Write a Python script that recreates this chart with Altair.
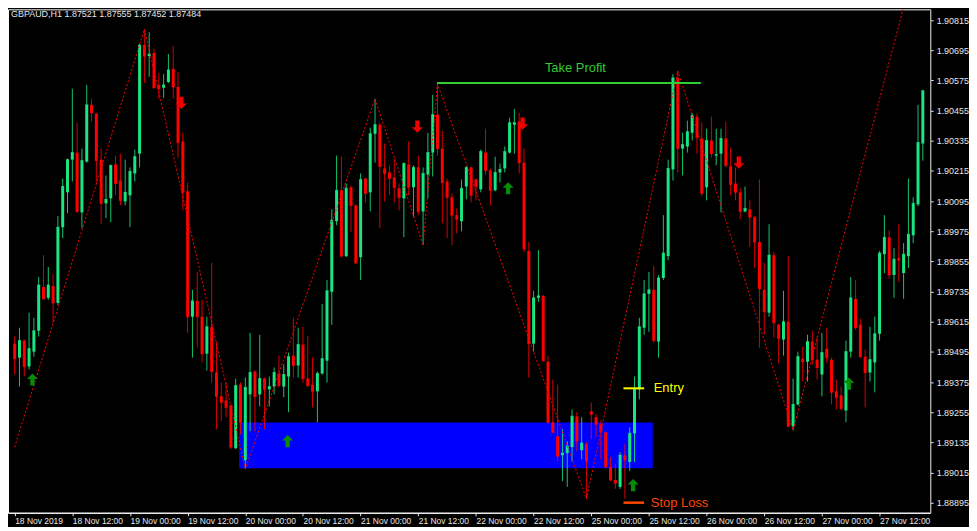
import altair as alt
import pandas as pd

# ---- OHLC data (GBPAUD H1), bar index 0 = 18 Nov 2019 00:00 ----
opens = [
    1.89528, 1.89472, 1.89540, 1.89437, 1.89496, 1.89579, 1.89753, 1.89710, 1.89757, 1.89690,
    1.89991, 1.90130, 1.90260, 1.90288, 1.90050, 1.90252, 1.90478, 1.90443, 1.90260, 1.90086,
    1.90106, 1.90241, 1.90177, 1.90094, 1.90118, 1.90205, 1.90284, 1.90716, 1.90672, 1.90684,
    1.90557, 1.90546, 1.90569, 1.90621, 1.90549, 1.90332, 1.90134, 1.89635, 1.89698, 1.89635,
    1.89488, 1.89595, 1.89413, 1.89318, 1.89302, 1.89282, 1.89112, 1.89365, 1.89064, 1.89326,
    1.89417, 1.89326, 1.89389, 1.89346, 1.89357, 1.89409, 1.89357, 1.89397, 1.89480, 1.89441,
    1.89524, 1.89389, 1.89365, 1.89338, 1.89409, 1.89460, 1.89734, 1.90015, 1.90138, 1.89876,
    1.90150, 1.90078, 1.89872, 1.90185, 1.90130, 1.90363, 1.90399, 1.90225, 1.90209, 1.90189,
    1.90146, 1.90106, 1.90241, 1.90150, 1.90229, 1.90054, 1.90201, 1.90288, 1.90439, 1.90304,
    1.90173, 1.90110, 1.90039, 1.90015, 1.90153, 1.90229, 1.90181, 1.90142, 1.90288, 1.90217,
    1.90138, 1.90209, 1.90225, 1.90288, 1.90399, 1.90411, 1.90248, 1.89896, 1.89528, 1.89710,
    1.89718, 1.89456, 1.89215, 1.89159, 1.89084, 1.89092, 1.89116, 1.89239, 1.89104, 1.89128,
    1.89258, 1.89235, 1.89207, 1.89175, 1.89037, 1.88985, 1.88958, 1.89084, 1.89057, 1.89171,
    1.89346, 1.89591, 1.89726, 1.89742, 1.89536, 1.89789, 1.89876, 1.90221, 1.90585, 1.90304,
    1.90312, 1.90367, 1.90431, 1.90344, 1.90150, 1.90336, 1.90276, 1.90284, 1.90344, 1.90233,
    1.90165, 1.90130, 1.90054, 1.90062, 1.90031, 1.89932, 1.89742, 1.89651, 1.89880, 1.89603,
    1.89544, 1.89615, 1.89199, 1.89286, 1.89468, 1.89456, 1.89536, 1.89464, 1.89405, 1.89508,
    1.89464, 1.89338, 1.89322, 1.89262, 1.89496, 1.89706, 1.89603, 1.89476, 1.89413, 1.89453,
    1.89567, 1.89884, 1.89951, 1.89801, 1.89868, 1.89809, 1.89876, 1.89959, 1.90082, 1.90324,
]
highs = [
    1.89556, 1.89591, 1.89544, 1.89651, 1.89631, 1.89793, 1.89880, 1.89833, 1.89805, 1.90035,
    1.90185, 1.90264, 1.90542, 1.90407, 1.90304, 1.90557, 1.90502, 1.90446, 1.90304, 1.90197,
    1.90240, 1.90276, 1.90284, 1.90260, 1.90229, 1.90300, 1.90720, 1.90779, 1.90767, 1.90700,
    1.90605, 1.90601, 1.90680, 1.90712, 1.90609, 1.90367, 1.90169, 1.89742, 1.89813, 1.89702,
    1.89635, 1.89849, 1.89536, 1.89373, 1.89373, 1.89286, 1.89389, 1.89373, 1.89393, 1.89571,
    1.89421, 1.89563, 1.89393, 1.89397, 1.89433, 1.89480, 1.89445, 1.89492, 1.89631, 1.89591,
    1.89595, 1.89559, 1.89472, 1.89417, 1.89686, 1.89781, 1.90062, 1.90276, 1.90272, 1.90165,
    1.90157, 1.90082, 1.90205, 1.90189, 1.90387, 1.90502, 1.90407, 1.90324, 1.90237, 1.90264,
    1.90165, 1.90248, 1.90332, 1.90237, 1.90276, 1.90229, 1.90367, 1.90518, 1.90561, 1.90375,
    1.90185, 1.90126, 1.90066, 1.90181, 1.90233, 1.90233, 1.90185, 1.90300, 1.90383, 1.90225,
    1.90272, 1.90245, 1.90312, 1.90427, 1.90462, 1.90446, 1.90304, 1.89932, 1.89738, 1.89900,
    1.89722, 1.89480, 1.89385, 1.89365, 1.89187, 1.89140, 1.89266, 1.89255, 1.89235, 1.89136,
    1.89294, 1.89247, 1.89223, 1.89179, 1.89076, 1.89049, 1.89096, 1.89128, 1.89195, 1.89397,
    1.89631, 1.89781, 1.89813, 1.89837, 1.89801, 1.90039, 1.90260, 1.90600, 1.90613, 1.90367,
    1.90415, 1.90446, 1.90443, 1.90407, 1.90383, 1.90431, 1.90383, 1.90383, 1.90411, 1.90308,
    1.90229, 1.90146, 1.90153, 1.90098, 1.90035, 1.90181, 1.89849, 1.90003, 1.89892, 1.89607,
    1.89738, 1.89876, 1.89389, 1.89496, 1.89516, 1.89563, 1.89579, 1.89556, 1.89571, 1.89591,
    1.89472, 1.89385, 1.89357, 1.89540, 1.89793, 1.89781, 1.89627, 1.89504, 1.89595, 1.89635,
    1.89896, 1.90039, 1.89979, 1.89908, 1.90003, 1.89928, 1.90185, 1.90110, 1.90478, 1.90538,
]
lows = [
    1.89405, 1.89357, 1.89397, 1.89425, 1.89476, 1.89556, 1.89702, 1.89702, 1.89611, 1.89682,
    1.89948, 1.90047, 1.90173, 1.90047, 1.89987, 1.90248, 1.90411, 1.90169, 1.90003, 1.90027,
    1.90011, 1.90118, 1.90078, 1.90078, 1.89991, 1.90173, 1.90229, 1.90565, 1.90589, 1.90542,
    1.90502, 1.90506, 1.90565, 1.90502, 1.90268, 1.90058, 1.89571, 1.89472, 1.89512, 1.89453,
    1.89421, 1.89373, 1.89187, 1.89219, 1.89235, 1.89108, 1.89108, 1.89167, 1.89029, 1.89179,
    1.89179, 1.89278, 1.89187, 1.89278, 1.89326, 1.89354, 1.89314, 1.89255, 1.89393, 1.89393,
    1.89373, 1.89354, 1.89274, 1.89215, 1.89405, 1.89373, 1.89603, 1.89999, 1.89872, 1.89872,
    1.89971, 1.89845, 1.89781, 1.90090, 1.90054, 1.90248, 1.89987, 1.90094, 1.90118, 1.90090,
    1.90058, 1.89951, 1.90118, 1.90031, 1.90039, 1.89920, 1.90106, 1.90193, 1.90276, 1.90007,
    1.89948, 1.89920, 1.89967, 1.89975, 1.90102, 1.90090, 1.90098, 1.90130, 1.90201, 1.90078,
    1.90134, 1.90169, 1.90209, 1.90284, 1.90284, 1.90205, 1.89892, 1.89393, 1.89496, 1.89694,
    1.89456, 1.89211, 1.89171, 1.89060, 1.88981, 1.88958, 1.89060, 1.89100, 1.89068, 1.88910,
    1.89148, 1.89156, 1.89068, 1.89033, 1.88981, 1.88950, 1.88950, 1.88910, 1.89021, 1.89057,
    1.89306, 1.89563, 1.89575, 1.89532, 1.89472, 1.89781, 1.89860, 1.90177, 1.90209, 1.90197,
    1.90288, 1.90336, 1.90284, 1.90114, 1.90098, 1.90268, 1.90237, 1.90050, 1.90229, 1.90118,
    1.90098, 1.90023, 1.90050, 1.89912, 1.89829, 1.89512, 1.89563, 1.89635, 1.89552, 1.89449,
    1.89480, 1.89195, 1.89183, 1.89282, 1.89377, 1.89377, 1.89445, 1.89385, 1.89318, 1.89453,
    1.89286, 1.89266, 1.89262, 1.89215, 1.89472, 1.89583, 1.89472, 1.89274, 1.89377, 1.89334,
    1.89540, 1.89809, 1.89785, 1.89710, 1.89773, 1.89706, 1.89829, 1.89928, 1.90074, 1.90256,
]
closes = [
    1.89468, 1.89540, 1.89437, 1.89508, 1.89579, 1.89761, 1.89706, 1.89761, 1.89690, 1.89991,
    1.90153, 1.90260, 1.90288, 1.90054, 1.90256, 1.90478, 1.90446, 1.90256, 1.90086, 1.90102,
    1.90237, 1.90165, 1.90098, 1.90130, 1.90213, 1.90272, 1.90716, 1.90672, 1.90680, 1.90546,
    1.90542, 1.90557, 1.90617, 1.90549, 1.90328, 1.90130, 1.89635, 1.89698, 1.89635, 1.89488,
    1.89595, 1.89417, 1.89318, 1.89294, 1.89274, 1.89116, 1.89361, 1.89215, 1.89354, 1.89413,
    1.89318, 1.89389, 1.89346, 1.89357, 1.89413, 1.89361, 1.89405, 1.89476, 1.89441, 1.89524,
    1.89389, 1.89361, 1.89338, 1.89409, 1.89468, 1.89738, 1.90019, 1.90138, 1.89876, 1.90146,
    1.90078, 1.89849, 1.90181, 1.90126, 1.90363, 1.90399, 1.90233, 1.90205, 1.90185, 1.90150,
    1.90110, 1.90245, 1.90150, 1.90229, 1.90054, 1.90205, 1.90288, 1.90439, 1.90304, 1.90169,
    1.90110, 1.90039, 1.90023, 1.90146, 1.90229, 1.90118, 1.90153, 1.90292, 1.90217, 1.90138,
    1.90209, 1.90221, 1.90292, 1.90407, 1.90407, 1.90248, 1.89904, 1.89528, 1.89710, 1.89718,
    1.89460, 1.89215, 1.89175, 1.89080, 1.89092, 1.89120, 1.89239, 1.89140, 1.89132, 1.89060,
    1.89247, 1.89207, 1.89179, 1.89037, 1.88985, 1.88973, 1.89084, 1.89064, 1.89171, 1.89346,
    1.89595, 1.89726, 1.89742, 1.89540, 1.89789, 1.89888, 1.90225, 1.90585, 1.90304, 1.90320,
    1.90371, 1.90435, 1.90347, 1.90126, 1.90336, 1.90284, 1.90280, 1.90344, 1.90237, 1.90161,
    1.90130, 1.90054, 1.90066, 1.90031, 1.89932, 1.89746, 1.89655, 1.89880, 1.89611, 1.89548,
    1.89615, 1.89199, 1.89286, 1.89476, 1.89456, 1.89536, 1.89464, 1.89433, 1.89492, 1.89472,
    1.89334, 1.89314, 1.89270, 1.89496, 1.89710, 1.89591, 1.89476, 1.89413, 1.89464, 1.89567,
    1.89888, 1.89951, 1.89801, 1.89864, 1.89860, 1.89884, 1.89963, 1.90086, 1.90328, 1.90534,
]

# ZigZag vertices (bar index, price)
zz_bars = [0, 27, 48, 75, 85, 88, 119, 138, 162, 189]
zz_prices = [1.89116, 1.90779, 1.89029, 1.90502, 1.89920, 1.90561, 1.88910, 1.90613, 1.89183, 1.91160]

# Signal arrows
up_bars = [3.7, 56.8, 102.7, 128.7, 173.6]
up_prices = [1.89385, 1.89140, 1.90146, 1.88965, 1.89369]
dn_bars = [34.7, 83.8, 105.7, 150.7]
dn_prices = [1.90486, 1.90391, 1.90403, 1.90248]

# Trade levels / zone
zone = {"x0": 46.7, "x1": 132.8, "lo": 1.89032, "hi": 1.89214}
tp = {"x0": 87.9, "x1": 142.8, "price": 1.90565, "label_x": 116.7, "label_price": 1.90625}
entry = {"x0": 126.7, "x1": 131.0, "price": 1.89350, "label_x": 133.0}
stop = {"x0": 126.7, "x1": 131.0, "price": 1.88895, "label_x": 132.4}

# Axes
x_tick_bars = [0, 12, 24, 36, 48, 60, 72, 84, 96, 108, 120, 132, 144, 156, 168, 180]
x_tick_labels = ["18 Nov 2019", "18 Nov 12:00", "19 Nov 00:00", "19 Nov 12:00",
                 "20 Nov 00:00", "20 Nov 12:00", "21 Nov 00:00", "21 Nov 12:00",
                 "22 Nov 00:00", "22 Nov 12:00", "25 Nov 00:00", "25 Nov 12:00",
                 "26 Nov 00:00", "26 Nov 12:00", "27 Nov 00:00", "27 Nov 12:00"]
y_ticks = [1.90815, 1.90695, 1.90575, 1.90455, 1.90335, 1.90215, 1.90095, 1.89975,
           1.89855, 1.89735, 1.89615, 1.89495, 1.89375, 1.89255, 1.89135, 1.89015, 1.88895]
header = "GBPAUD,H1  1.87521 1.87555 1.87452 1.87484"

X_DOMAIN = [-0.35, 189.5]
Y_DOMAIN = [1.88855, 1.90858]

BULL = "#19E682"
BEAR = "#FF0000"
FONT = "Liberation Sans"

df = pd.DataFrame({"bar": list(range(len(opens))), "open": opens, "high": highs,
                   "low": lows, "close": closes})
df["dir"] = ["up" if c >= o else "down" for o, c in zip(opens, closes)]

label_js = "[" + ",".join("'" + s + "'" for s in x_tick_labels) + "]"

xs = alt.Scale(domain=X_DOMAIN, nice=False, zero=False)
ys = alt.Scale(domain=Y_DOMAIN, nice=False, zero=False)

x_axis = alt.Axis(values=x_tick_bars, labelExpr=label_js + "[round(datum.value/12)]",
                  orient="bottom", grid=False, tickSize=3, labelPadding=1,
                  labelAlign="left", labelBaseline="top", labelFont=FONT, labelFontSize=8.5,
                  labelColor="#E6E6E6", tickColor="#E6E6E6", domainColor="#FFFFFF",
                  labelOverlap=False, labelFlush=False, title=None)
y_axis = alt.Axis(values=y_ticks, format=".5f", orient="right", grid=False, tickSize=3,
                  labelPadding=3, labelFont=FONT, labelFontSize=9, labelColor="#E6E6E6",
                  tickColor="#E6E6E6", domainColor="#A0A0A0", labelOverlap=False,
                  labelFlush=False, title=None)

dir_color = alt.Color("dir:N", scale=alt.Scale(domain=["up", "down"], range=[BULL, BEAR]),
                      legend=None)

base = alt.Chart(df)

# blue zone (behind candles)
zone_layer = alt.Chart(pd.DataFrame([zone])).mark_rect(color="#0000FF").encode(
    x=alt.X("x0:Q", scale=xs, axis=x_axis), x2="x1:Q",
    y=alt.Y("lo:Q", scale=ys, axis=y_axis), y2="hi:Q")

wicks = base.mark_rule(strokeWidth=1, opacity=0.85).encode(
    x=alt.X("bar:Q", scale=xs, axis=x_axis), y=alt.Y("low:Q", scale=ys, axis=y_axis),
    y2="high:Q", color=dir_color)
bodies = base.mark_bar(size=3).encode(
    x=alt.X("bar:Q", scale=xs, axis=x_axis), y=alt.Y("open:Q", scale=ys, axis=y_axis),
    y2="close:Q", color=dir_color)
doji = base.mark_tick(orient="horizontal", size=3, thickness=1).encode(
    x=alt.X("bar:Q", scale=xs, axis=x_axis), y=alt.Y("close:Q", scale=ys, axis=y_axis),
    color=dir_color)

zz_df = pd.DataFrame({"bar": zz_bars, "price": zz_prices})
zigzag = alt.Chart(zz_df).mark_line(color="#FF0000", strokeWidth=1, strokeDash=[2, 2],
                                    clip=True).encode(
    x=alt.X("bar:Q", scale=xs, axis=x_axis), y=alt.Y("price:Q", scale=ys, axis=y_axis))

tp_line = alt.Chart(pd.DataFrame([tp])).mark_rule(color="#32CD32", strokeWidth=2).encode(
    x=alt.X("x0:Q", scale=xs, axis=x_axis), x2="x1:Q", y=alt.Y("price:Q", scale=ys, axis=y_axis))
tp_text = alt.Chart(pd.DataFrame([tp])).mark_text(
    text="Take Profit", color="#32CD32", font=FONT, fontSize=13, align="center",
    baseline="middle").encode(x=alt.X("label_x:Q", scale=xs, axis=x_axis),
                              y=alt.Y("label_price:Q", scale=ys, axis=y_axis))

entry_line = alt.Chart(pd.DataFrame([entry])).mark_rule(color="#FFFF00", strokeWidth=2).encode(
    x=alt.X("x0:Q", scale=xs, axis=x_axis), x2="x1:Q", y=alt.Y("price:Q", scale=ys, axis=y_axis))
entry_text = alt.Chart(pd.DataFrame([entry])).mark_text(
    text="Entry", color="#FFFF00", font=FONT, fontSize=13, align="left",
    baseline="middle").encode(x=alt.X("label_x:Q", scale=xs, axis=x_axis),
                              y=alt.Y("price:Q", scale=ys, axis=y_axis))

stop_line = alt.Chart(pd.DataFrame([stop])).mark_rule(color="#FF4500", strokeWidth=2.5).encode(
    x=alt.X("x0:Q", scale=xs, axis=x_axis), x2="x1:Q", y=alt.Y("price:Q", scale=ys, axis=y_axis))
stop_text = alt.Chart(pd.DataFrame([stop])).mark_text(
    text="Stop Loss", color="#FF4500", font=FONT, fontSize=13, align="left",
    baseline="middle").encode(x=alt.X("label_x:Q", scale=xs, axis=x_axis),
                              y=alt.Y("price:Q", scale=ys, axis=y_axis))

UP_SHAPE = "M0,-1L0.9,-0.1L0.35,-0.1L0.35,1L-0.35,1L-0.35,-0.1L-0.9,-0.1Z"
DN_SHAPE = "M0,1L0.9,0.1L0.35,0.1L0.35,-1L-0.35,-1L-0.35,0.1L-0.9,0.1Z"

up_arrows = alt.Chart(pd.DataFrame({"bar": up_bars, "price": up_prices})).mark_point(
    shape=UP_SHAPE, filled=True, size=150, color="#078C07", opacity=1, strokeWidth=0).encode(
    x=alt.X("bar:Q", scale=xs, axis=x_axis), y=alt.Y("price:Q", scale=ys, axis=y_axis))
dn_arrows = alt.Chart(pd.DataFrame({"bar": dn_bars, "price": dn_prices})).mark_point(
    shape=DN_SHAPE, filled=True, size=150, color="#F00000", opacity=1, strokeWidth=0).encode(
    x=alt.X("bar:Q", scale=xs, axis=x_axis), y=alt.Y("price:Q", scale=ys, axis=y_axis))

head = alt.Chart(pd.DataFrame({"t": [header]})).mark_text(
    align="left", baseline="top", font=FONT, fontSize=9, color="#E6E6E6").encode(
    text="t:N", x=alt.value(3), y=alt.value(1))

chart = alt.layer(
    zone_layer, wicks, bodies, doji, zigzag, tp_line, tp_text, entry_line, entry_text,
    stop_line, stop_text, up_arrows, dn_arrows, head
).properties(
    width=927, height=506, padding=0, background="black"
).configure_view(
    stroke="#FFFFFF", strokeWidth=1
).configure_axis(
    labelOverlap=False
)

chart.save("out.html", embed_options={"renderer": "svg", "actions": False})
